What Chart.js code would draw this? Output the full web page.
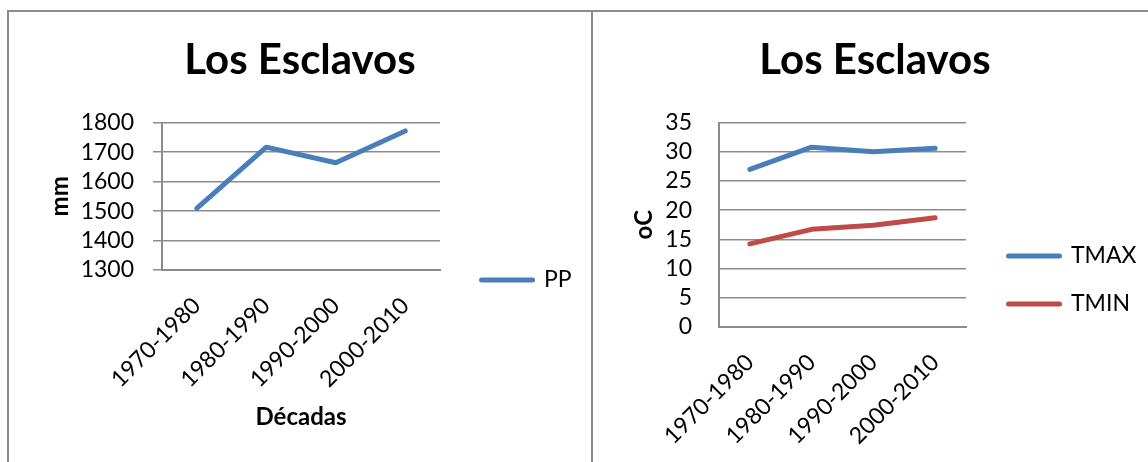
<!DOCTYPE html>
<html lang="es">
<head>
<meta charset="utf-8">
<title>Los Esclavos</title>
<script src="https://cdn.jsdelivr.net/npm/chart.js@4.4.1/dist/chart.umd.min.js"></script>
<style>
  html, body { margin: 0; padding: 0; background: #fff; }
  body { width: 1148px; height: 462px; overflow: hidden; position: relative; }
  .panel {
    position: absolute; top: 10px; height: 600px;
    box-sizing: border-box; overflow: hidden;
    border-top: 2px solid #8c8c8c;
  }
  #panel-pp { left: 7px; width: 586px; border-left: 2px solid #8c8c8c; border-right: 2px solid #8c8c8c; }
  #panel-temp { left: 593px; width: 600px; }
  canvas { position: absolute; left: 0; top: 0; }
</style>
</head>
<body>
<div class="panel" id="panel-pp"><canvas id="chart-pp" width="582" height="536"></canvas></div>
<div class="panel" id="panel-temp"><canvas id="chart-temp" width="564" height="536"></canvas></div>

<script>
// Décadas en el eje de categorías
const decadas = ['1970-1980', '1980-1990', '1990-2000', '2000-2010'];

// Precipitación media (mm)
const pp = [1509, 1717, 1664, 1772];

// Temperaturas máxima y mínima (oC)
const tmax = [27.0, 30.8, 30.0, 30.6];
const tmin = [14.2, 16.7, 17.4, 18.7];

// Marcas de los ejes verticales
const ppTicks = [1300, 1400, 1500, 1600, 1700, 1800];
const tempTicks = [0, 5, 10, 15, 20, 25, 30, 35];

const BLUE = '#4a7ebb';
const RED = '#be4b48';
const GRID = '#8c8c8c';
const INK = '#000000';

Chart.defaults.font.family = "Lato, 'Liberation Sans', sans-serif";
Chart.defaults.color = INK;

// Keeps the legend column at a fixed width so the plot area lines up.
const legendWidth = {
  id: 'legendWidth',
  beforeLayout(chart, args, opts) {
    const legend = chart.legend;
    if (legend && !legend.__fixedFit) {
      const fit = legend.fit;
      legend.fit = function () {
        fit.call(this);
        if (opts && opts.width) this.width = opts.width;
      };
      legend.__fixedFit = true;
    }
  }
};

function lineLegendLabels(chart) {
  return chart.data.datasets.map((ds, i) => ({
    text: ds.label,
    fillStyle: ds.borderColor,
    strokeStyle: ds.borderColor,
    lineWidth: ds.borderWidth,
    lineCap: 'round',
    pointStyle: 'line',
    hidden: false,
    datasetIndex: i,
    fontColor: INK
  }));
}

function lineDataset(label, data, color) {
  return {
    label, data,
    borderColor: color, backgroundColor: color,
    borderWidth: 5, pointRadius: 0, pointHoverRadius: 0,
    borderCapStyle: 'round', borderJoinStyle: 'round',
    tension: 0, fill: false
  };
}

const titleOpts = {
  display: true, text: 'Los Esclavos', color: INK,
  font: { size: 42, weight: 'bold' },
  padding: { top: 22.8, bottom: 37.5 }
};

function legendOpts(padding) {
  return {
    position: 'right',
    labels: {
      usePointStyle: true, pointStyle: 'line', pointStyleWidth: 51,
      padding, color: INK, font: { size: 23 },
      generateLabels: lineLegendLabels
    }
  };
}

function categoryAxis(height, title) {
  const axis = {
    offset: true,
    grid: { display: false, drawTicks: false },
    border: { display: true, color: GRID, width: 2 },
    ticks: { minRotation: 45, maxRotation: 45, autoSkip: false, padding: 22, color: INK, font: { size: 23 } },
    afterFit(scale) { scale.height = height; }
  };
  if (title) {
    axis.title = { display: true, text: title, color: INK, font: { size: 24, weight: 'bold' }, padding: { top: 0, bottom: 116 } };
  }
  return axis;
}

function valueAxis(values, width, title, tickLength, padding) {
  return {
    min: values[0], max: values[values.length - 1],
    afterBuildTicks(scale) { scale.ticks = values.map(v => ({ value: v })); },
    ticks: { autoSkip: false, padding, color: INK, font: { size: 23 }, callback: v => String(v) },
    grid: { color: GRID, lineWidth: 1.5, drawTicks: tickLength > 0, tickLength, tickColor: GRID },
    border: { color: GRID, width: 2 },
    title: { display: true, text: title, color: INK, font: { size: 24, weight: 'bold' }, padding: { top: 37.1, bottom: 0 } },
    afterFit(scale) { scale.width = width; }
  };
}

function draw() {
  new Chart(document.getElementById('chart-pp'), {
    type: 'line',
    data: { labels: decadas, datasets: [lineDataset('PP', pp, BLUE)] },
    options: {
      responsive: false, animation: false, devicePixelRatio: 1,
      layout: { padding: 0 },
      plugins: {
        title: titleOpts,
        legend: legendOpts(41.5),
        legendWidth: { width: 151 },
        tooltip: { enabled: false }
      },
      scales: {
        x: categoryAxis(278, 'Décadas'),
        y: valueAxis(ppTicks, 153, 'mm', 9, 19)
      }
    },
    plugins: [legendWidth]
  });

  new Chart(document.getElementById('chart-temp'), {
    type: 'line',
    data: {
      labels: decadas,
      datasets: [lineDataset('TMAX', tmax, BLUE), lineDataset('TMIN', tmin, RED)]
    },
    options: {
      responsive: false, animation: false, devicePixelRatio: 1,
      layout: { padding: 0 },
      plugins: {
        title: titleOpts,
        legend: legendOpts(25),
        legendWidth: { width: 173.5 },
        tooltip: { enabled: false }
      },
      scales: {
        x: categoryAxis(221.3, null),
        y: valueAxis(tempTicks, 126, 'oC', 0, 27),
        gap: {
          type: 'linear', position: 'right', display: true,
          grid: { display: false, drawTicks: false },
          border: { display: false },
          ticks: { display: false },
          afterFit(scale) { scale.width = 17.5; }
        }
      }
    },
    plugins: [legendWidth]
  });
}

if (document.fonts && document.fonts.load) {
  Promise.all([
    document.fonts.load('bold 42px Lato'),
    document.fonts.load('23px Lato')
  ]).then(draw, draw);
} else {
  draw();
}
</script>
</body>
</html>
